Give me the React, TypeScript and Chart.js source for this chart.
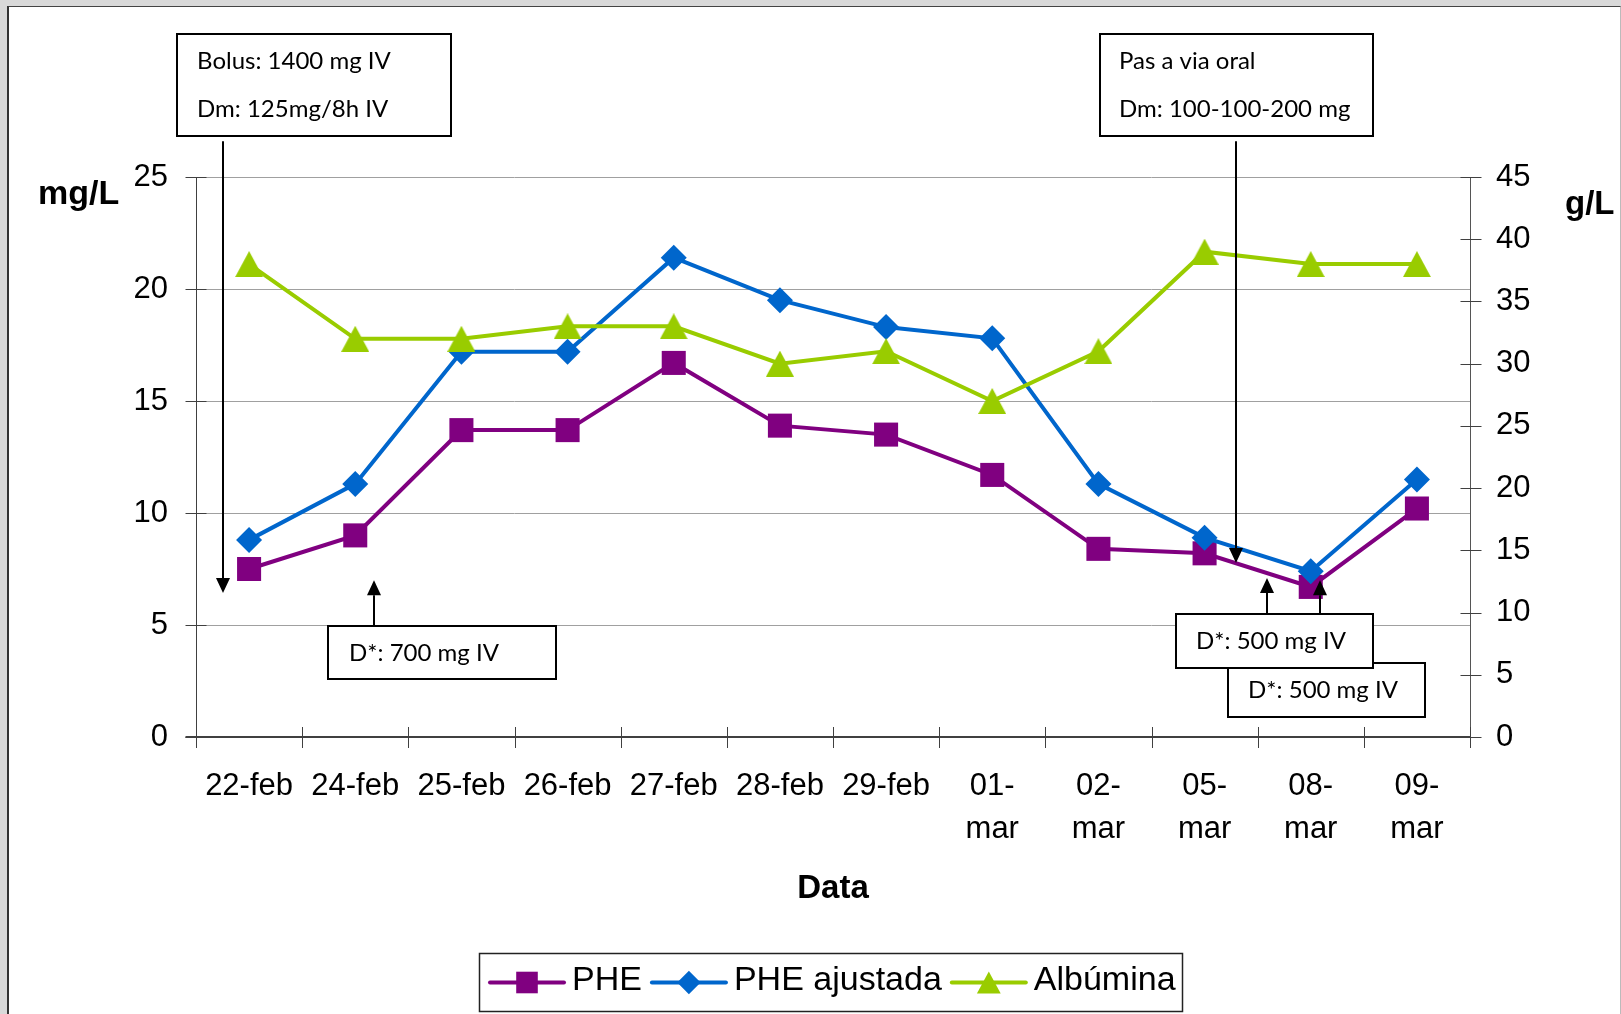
import React, { useEffect, useRef } from 'react';
import { Chart, registerables } from 'chart.js';

Chart.register(...registerables);

// ---------- data ----------
const categories: (string | string[])[] = [
  '22-feb', '24-feb', '25-feb', '26-feb', '27-feb', '28-feb', '29-feb',
  ['01-', 'mar'], ['02-', 'mar'], ['05-', 'mar'], ['08-', 'mar'], ['09-', 'mar'],
];
const pheValues = [7.5, 9.0, 13.7, 13.7, 16.7, 13.9, 13.5, 11.7, 8.4, 8.2, 6.7, 10.2];
const pheAjustadaValues = [8.8, 11.3, 17.2, 17.2, 21.4, 19.5, 18.3, 17.8, 11.3, 8.9, 7.4, 11.5];
const albuminaValues = [38, 32, 32, 33, 33, 30, 31, 27, 31, 39, 38, 38];
const seriesNames = ['PHE', 'PHE ajustada', 'Albúmina'];
const seriesColors = ['#800080', '#0066CC', '#99CC00'];
const leftTicks = [0, 5, 10, 15, 20, 25];
const rightTicks = [0, 5, 10, 15, 20, 25, 30, 35, 40, 45];
const leftTitle = 'mg/L';
const rightTitle = 'g/L';
const xTitle = 'Data';

// annotations: x in category-index units, y in mg/L units (left axis)
type Note = {
  lines: string[];
  box: [number, number, number, number]; // x0, yTop, x1, yBottom
  textX: number;
  baselines: number[];
  arrow: { x: number; from: number; to: number };
};
const notes: Note[] = [
  { lines: ['Bolus: 1400 mg IV', 'Dm: 125mg/8h IV'], box: [-0.68, 31.38, 1.9, 26.83], textX: -0.49, baselines: [29.82, 27.68], arrow: { x: -0.245, from: 26.6, to: 6.43 } },
  { lines: ['Pas a via oral', 'Dm: 100-100-200 mg'], box: [8.015, 31.38, 10.587, 26.83], textX: 8.194, baselines: [29.82, 27.68], arrow: { x: 9.296, from: 26.6, to: 7.77 } },
  { lines: ['D*: 700 mg IV'], box: [0.744, 4.96, 2.892, 2.59], textX: 0.942, baselines: [3.39], arrow: { x: 1.177, from: 4.96, to: 7.0 } },
  { lines: ['D*: 500 mg IV'], box: [9.221, 3.3, 11.076, 0.89], textX: 9.41, baselines: [1.74], arrow: { x: 10.088, from: 5.5, to: 7.0 } },
  { lines: ['D*: 500 mg IV'], box: [8.731, 5.49, 10.587, 3.08], textX: 8.92, baselines: [3.93], arrow: { x: 9.588, from: 5.49, to: 7.1 } },
];

const SANS = '"Liberation Sans", Arial, Helvetica, sans-serif';
const NOTE_FONT = '24px Lato, "Open Sans", sans-serif';

function makeTriangle(w: number, h: number, color: string) {
  const c = document.createElement('canvas');
  c.width = w;
  c.height = h;
  const g = c.getContext('2d')!;
  g.fillStyle = color;
  g.beginPath();
  g.moveTo(0, h);
  g.lineTo(w / 2, 0);
  g.lineTo(w, h);
  g.closePath();
  g.fill();
  return c;
}

function drawMarker(ctx: CanvasRenderingContext2D, kind: string, x: number, y: number, s: number, color: string) {
  ctx.fillStyle = color;
  ctx.beginPath();
  if (kind === 'square') {
    const a = 12 * s;
    ctx.rect(x - a, y - a, 2 * a, 2 * a);
  } else if (kind === 'diamond') {
    const r = 13 * s;
    ctx.moveTo(x, y - r);
    ctx.lineTo(x + r, y);
    ctx.lineTo(x, y + r);
    ctx.lineTo(x - r, y);
    ctx.closePath();
  } else {
    const w = 28 * s, h = 26 * s;
    ctx.moveTo(x - w / 2, y + h / 2);
    ctx.lineTo(x, y - h / 2);
    ctx.lineTo(x + w / 2, y + h / 2);
    ctx.closePath();
  }
  ctx.fill();
}

const axesPlugin = {
  id: 'excelAxes',
  beforeDatasetsDraw(chart: any) {
    const { ctx, chartArea: ca, scales } = chart;
    const xs = scales.x, ys = scales.y, y1 = scales.y1;
    const L = Math.round(ca.left) + 0.5;
    const R = Math.round(ca.right) + 0.5;
    const B = Math.round(ca.bottom);
    const T = Math.round(ca.top);
    ctx.save();
    ctx.strokeStyle = '#404040';
    ctx.lineWidth = 1;
    const seg = (a: number, b: number, c: number, d: number) => {
      ctx.beginPath();
      ctx.moveTo(a, b);
      ctx.lineTo(c, d);
      ctx.stroke();
    };
    seg(L, T, L, B);
    ctx.strokeStyle = '#555';
    seg(R, T, R, B);
    ctx.strokeStyle = '#404040';
    leftTicks.forEach((v) => {
      const p = Math.round(ys.getPixelForValue(v)) + 0.5;
      seg(L - 11, p, L + 10, p);
    });
    rightTicks.forEach((v) => {
      const p = Math.round(y1.getPixelForValue(v)) + 0.5;
      seg(R - 10, p, R + 11, p);
    });
    const n = categories.length;
    for (let i = 0; i <= n; i++) {
      let px: number;
      if (i === 0) px = ca.left;
      else if (i === n) px = ca.right;
      else px = (xs.getPixelForValue(i - 1) + xs.getPixelForValue(i)) / 2;
      px = Math.round(px) + 0.5;
      seg(px, B - 10, px, B + 11);
    }
    ctx.lineWidth = 2;
    seg(L - 11, B, R, B);
    ctx.restore();
  },
};

const notesPlugin = {
  id: 'notes',
  afterDatasetsDraw(chart: any) {
    const { ctx, scales } = chart;
    const xs = scales.x, ys = scales.y;
    const c0 = xs.getPixelForValue(0);
    const step = xs.getPixelForValue(1) - c0;
    const X = (i: number) => c0 + i * step;
    const Y = (v: number) => ys.getPixelForValue(v);
    ctx.save();
    notes.forEach((nt) => {
      // arrow
      const ax = Math.round(X(nt.arrow.x));
      const yA = Y(nt.arrow.from), yB = Y(nt.arrow.to);
      const dir = Math.sign(yB - yA);
      const hl = 15, hw = 7;
      ctx.strokeStyle = '#000';
      ctx.fillStyle = '#000';
      ctx.lineWidth = 2;
      ctx.beginPath();
      ctx.moveTo(ax, yA);
      ctx.lineTo(ax, yB - dir * hl);
      ctx.stroke();
      ctx.beginPath();
      ctx.moveTo(ax, yB);
      ctx.lineTo(ax - hw, yB - dir * hl);
      ctx.lineTo(ax + hw, yB - dir * hl);
      ctx.closePath();
      ctx.fill();
      // box
      const bx0 = Math.round(X(nt.box[0])), bx1 = Math.round(X(nt.box[2]));
      const by0 = Math.round(Y(nt.box[1])), by1 = Math.round(Y(nt.box[3]));
      ctx.fillStyle = '#fff';
      ctx.fillRect(bx0, by0, bx1 - bx0, by1 - by0);
      ctx.lineWidth = 2;
      ctx.strokeStyle = '#000';
      ctx.strokeRect(bx0, by0, bx1 - bx0, by1 - by0);
      ctx.fillStyle = '#000';
      ctx.font = NOTE_FONT;
      ctx.textAlign = 'left';
      ctx.textBaseline = 'alphabetic';
      nt.lines.forEach((t, k) => ctx.fillText(t, X(nt.textX), Y(nt.baselines[k])));
    });
    ctx.restore();
  },
};

const titlesLegendPlugin = {
  id: 'titlesLegend',
  afterDraw(chart: any) {
    const { ctx, chartArea: ca } = chart;
    ctx.save();
    ctx.fillStyle = '#000';
    ctx.textBaseline = 'alphabetic';
    ctx.textAlign = 'left';
    ctx.font = `bold 34px ${SANS}`;
    ctx.fillText(leftTitle, 38, ca.top + 27);
    ctx.font = `bold 33px ${SANS}`;
    ctx.fillText(rightTitle, ca.right + 95, ca.top + 37);
    ctx.textAlign = 'center';
    ctx.fillText(xTitle, (ca.left + ca.right) / 2, ca.bottom + 161);

    // legend
    const kinds = ['square', 'diamond', 'triangle'];
    ctx.font = `34px ${SANS}`;
    const lineLen = 74, gapLT = 8, gapItems = 10, padL = 11, padR = 6;
    const widths = seriesNames.map((s) => ctx.measureText(s).width);
    let total = padL + padR;
    widths.forEach((w, i) => {
      total += lineLen + gapLT + w + (i > 0 ? gapItems : 0);
    });
    const cx = (ca.left + ca.right) / 2 - 3;
    const bx = Math.round(cx - total / 2);
    const by = ca.bottom + 216;
    const bh = 58;
    ctx.fillStyle = '#fff';
    ctx.fillRect(bx, by, Math.round(total), bh);
    ctx.strokeStyle = '#222';
    ctx.lineWidth = 1.5;
    ctx.strokeRect(bx + 0.5, by + 0.5, Math.round(total), bh);
    const cy = by + bh / 2 + 0.5;
    let x = bx + padL;
    seriesNames.forEach((name, i) => {
      ctx.strokeStyle = seriesColors[i];
      ctx.lineWidth = 4;
      ctx.lineCap = 'round';
      ctx.beginPath();
      ctx.moveTo(x, cy);
      ctx.lineTo(x + lineLen, cy);
      ctx.stroke();
      drawMarker(ctx, kinds[i], x + lineLen / 2, cy, i === 2 ? 0.85 : 0.9, seriesColors[i]);
      x += lineLen + gapLT;
      ctx.fillStyle = '#000';
      ctx.textAlign = 'left';
      ctx.textBaseline = 'middle';
      ctx.fillText(name, x, cy - 2);
      x += widths[i] + gapItems;
    });
    ctx.restore();
  },
};

export default function App() {
  const ref = useRef<HTMLCanvasElement>(null);

  useEffect(() => {
    const canvas = ref.current!;
    const triangle = makeTriangle(28, 26, seriesColors[2]);
    const tickFont = { family: SANS, size: 31 };
    const chart = new Chart(canvas, {
      type: 'line',
      data: {
        labels: categories as any,
        datasets: [
          {
            label: seriesNames[0],
            data: pheValues,
            yAxisID: 'y',
            borderColor: seriesColors[0],
            backgroundColor: seriesColors[0],
            borderWidth: 4,
            pointStyle: 'rect',
            pointRadius: 17,
            pointBorderWidth: 0,
            order: 2,
          },
          {
            label: seriesNames[1],
            data: pheAjustadaValues,
            yAxisID: 'y',
            borderColor: seriesColors[1],
            backgroundColor: seriesColors[1],
            borderWidth: 4,
            pointStyle: 'rectRot',
            pointRadius: 13,
            pointBorderWidth: 0,
            order: 1,
          },
          {
            label: seriesNames[2],
            data: albuminaValues,
            yAxisID: 'y1',
            borderColor: seriesColors[2],
            backgroundColor: seriesColors[2],
            borderWidth: 4,
            pointStyle: triangle as any,
            pointRadius: 14,
            pointBorderWidth: 0,
            order: 0,
          },
        ],
      },
      options: {
        responsive: false,
        animation: false,
        events: [],
        layout: { padding: { left: 0, right: 0, top: 177, bottom: 0 } },
        plugins: {
          legend: { display: false },
          tooltip: { enabled: false },
          title: { display: false },
        },
        scales: {
          x: {
            type: 'category',
            offset: true,
            grid: { display: false, drawTicks: false },
            border: { display: false },
            ticks: {
              font: { ...tickFont, lineHeight: 1.39 },
              color: '#000',
              padding: 28,
              maxRotation: 0,
              minRotation: 0,
              autoSkip: false,
            },
            afterFit: (s: any) => {
              s.height = 277;
            },
          },
          y: {
            position: 'left',
            min: 0,
            max: 25,
            ticks: { stepSize: 5, font: tickFont, color: '#000', padding: 28 },
            grid: { color: '#a0a0a0', lineWidth: 1, drawTicks: false },
            border: { display: false },
            afterFit: (s: any) => {
              s.width = 196;
            },
          },
          y1: {
            position: 'right',
            min: 0,
            max: 45,
            ticks: { stepSize: 5, font: tickFont, color: '#000', padding: 26 },
            grid: { drawOnChartArea: false, drawTicks: false },
            border: { display: false },
            afterFit: (s: any) => {
              s.width = 151;
            },
          },
        },
      },
      plugins: [axesPlugin, notesPlugin, titlesLegendPlugin],
    } as any);
    return () => chart.destroy();
  }, []);

  return (
    <div style={{ position: 'absolute', left: 0, top: 0, width: 1621, height: 1014, background: '#d9d9d9', overflow: 'hidden' }}>
      <div
        style={{
          position: 'absolute',
          left: 7,
          top: 6,
          right: 0,
          bottom: -10,
          background: '#fff',
          borderLeft: '2px solid #333',
          borderTop: '1px solid #444',
          borderRight: '1px solid #bbb',
        }}
      />
      <canvas ref={ref} width={1621} height={1014} style={{ position: 'absolute', left: 0, top: 0, width: 1621, height: 1014 }} />
    </div>
  );
}
